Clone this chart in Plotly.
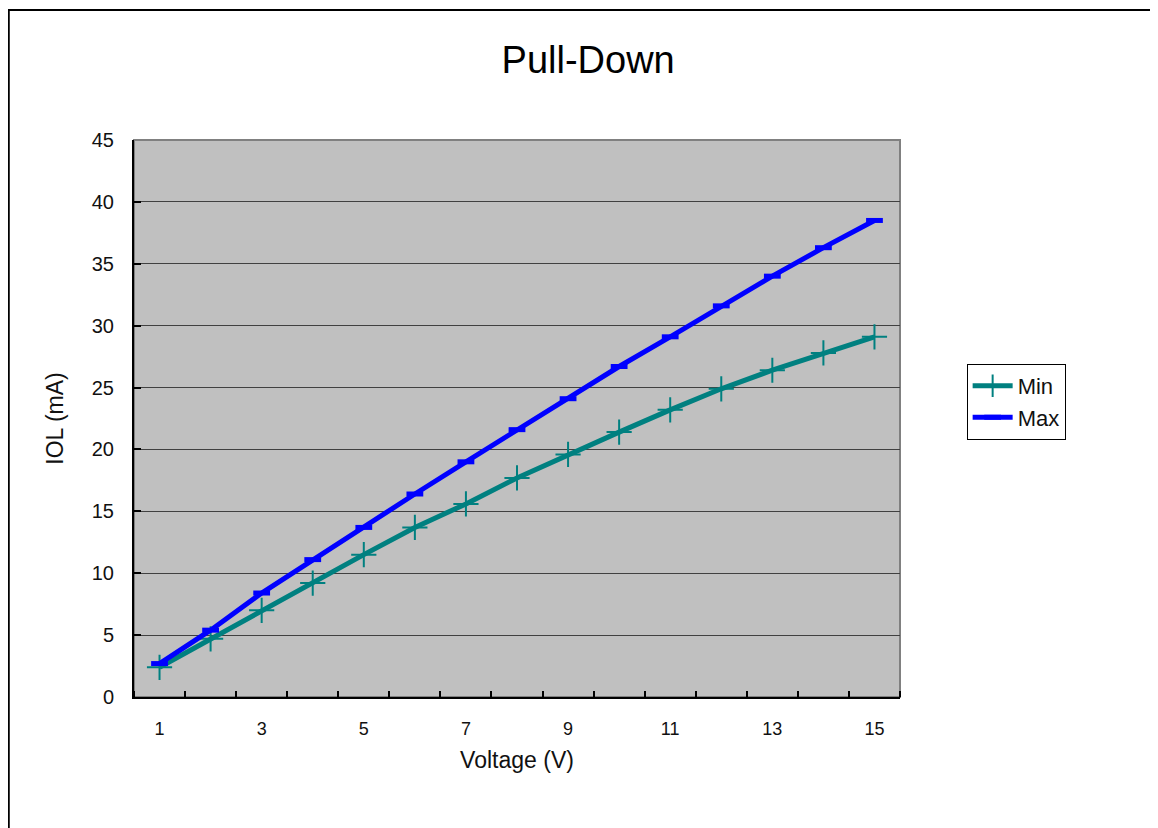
import plotly.graph_objects as go

# data ---------------------------------------------------------------------------------------------
voltage = list(range(1, 16))
iol_min = [2.4, 4.7, 7.0, 9.2, 11.5, 13.7, 15.6, 17.7, 19.6, 21.4, 23.2, 24.9, 26.4, 27.8, 29.1]
iol_max = [2.7, 5.4, 8.4, 11.1, 13.7, 16.4, 19.0, 21.6, 24.1, 26.7, 29.1, 31.6, 34.0, 36.3, 38.5]
xtick_vals = [1, 3, 5, 7, 9, 11, 13, 15]
ytick_vals = [0, 5, 10, 15, 20, 25, 30, 35, 40, 45]

FONT = "Liberation Sans"
TXTCOL = "#111111"

fig = go.Figure()

# plotting -----------------------------------------------------------------------------------------
fig.add_trace(go.Scatter(  # min curve
    x=voltage, y=iol_min, name="Min",
    mode="lines+markers",
    line=dict(color="#008080", width=5),
    marker=dict(symbol="cross-thin", size=18, color="#008080", line=dict(color="#008080", width=2)),
))
fig.add_trace(go.Scatter(  # max curve
    x=voltage, y=iol_max, name="Max",
    mode="lines+markers",
    line=dict(color="#0000FF", width=5),
    marker=dict(symbol="line-ew", size=12, color="#0000FF", line=dict(color="#0000FF", width=5)),
))

# chart frame (outer border of the whole chart object)
fig.add_shape(
    type="rect", xref="paper", yref="paper",
    x0=-0.1635, y0=-0.26, x1=1.36, y1=1.2335,
    line=dict(color="#000000", width=2), fillcolor="rgba(0,0,0,0)", layer="below",
)
# plot area border (grey on top/right)
fig.add_shape(
    type="rect", xref="paper", yref="paper",
    x0=0, y0=0, x1=1, y1=1,
    line=dict(color="#808080", width=2), fillcolor="rgba(0,0,0,0)", layer="below",
)

# layouting ----------------------------------------------------------------------------------------
fig.update_layout(
    width=1158, height=828,
    margin=dict(l=126, r=266, t=132, b=139),
    paper_bgcolor="#FFFFFF", plot_bgcolor="#C0C0C0",
    font=dict(family=FONT, size=17, color=TXTCOL),
    title=dict(
        text="Pull-Down", font=dict(size=38, color="#000000"),
        x=0.501, y=0.937, xref="container", yref="container", xanchor="center", yanchor="middle",
    ),
    legend=dict(
        x=1.087, y=0.598, xanchor="left", yanchor="top",
        bgcolor="#FFFFFF", bordercolor="#000000", borderwidth=1,
        font=dict(size=22, color=TXTCOL),
        tracegroupgap=0, itemwidth=40,
    ),
    showlegend=True,
)

fig.update_xaxes(
    range=[0.5, 15.5],
    tickmode="array", tickvals=xtick_vals,
    ticks="", ticklen=0, ticklabelstandoff=14,
    minor=dict(tickmode="linear", tick0=0.5, dtick=1, ticks="inside", ticklen=6,
               tickcolor="#000000", tickwidth=1.5, showgrid=False),
    showgrid=False, zeroline=False,
    showline=True, linecolor="#000000", linewidth=2,
    tickfont=dict(size=18),
    title=dict(text="Voltage (V)", font=dict(size=23), standoff=14),
)
fig.update_yaxes(
    range=[0, 45],
    tickmode="array", tickvals=ytick_vals,
    ticks="inside", ticklen=7, tickcolor="#000000", tickwidth=1.5, ticklabelstandoff=14,
    showgrid=True, gridcolor="#404040", gridwidth=1,
    zeroline=False,
    showline=True, linecolor="#000000", linewidth=2,
    tickfont=dict(size=20),
    title=dict(text="IOL (mA)", font=dict(size=23), standoff=22),
)

fig.write_html("out.html")
